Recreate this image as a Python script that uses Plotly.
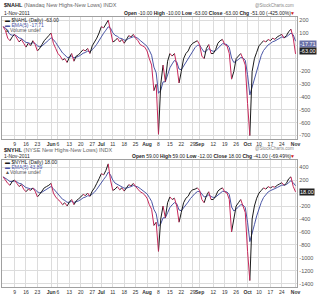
import plotly.graph_objects as go
import pandas as pd

# ---------------- data ----------------
holidays = ["2011-05-30", "2011-07-04", "2011-09-05"]
dates = [d.strftime("%Y-%m-%d") for d in pd.bdate_range("2011-05-02", "2011-11-01") if d.strftime("%Y-%m-%d") not in holidays]

nahl = [150, 120, 60, 40, 70,
        90, 60, 30, 50, 20,
        -10, 20, 0, 40, 10,
        -40, -20, 10, 40, 60,
        80,
        100, 20, -20,
        -60, -80, -110, -100, -130,
        -90, -60, -120, -80, -70,
        -50, -30, -40, -20, -60,
        0, 30, 60, 100,
        150,
        140, 170, 200, 120,
        30, 40, 60, 30, 50,
        20, 50, 80, 70, 90,
        60, 40, 10, 0, -10,
        -40, -100, -150, -350, -300,
        -690, -300, -150, -280, -120,
        -60, -80, -60, -150, -290,
        -200, -100, -60, -40, 0,
        20, 30, 40,
        10, -80,
        -100, -20, 10, -60,
        -60, -30, 20, 40, 50,
        10, 0, -60, -260, -200,
        -100, -80, -60, -100, -150,
        -450, -700, -200, -100, -50,
        0, 20, 40, 30, 50,
        40, 60, 50, 70, 80,
        90, 60, 80, 110, 130,
        60,
        -63]

nyhl = [250, 200, 150, 120, 180,
        200, 150, 100, 130, 60,
        20, 60, 40, 80, 30,
        -60, -20, 30, 80, 100,
        120,
        150, 0, -60,
        -100, -130, -180, -150, -200,
        -140, -100, -180, -120, -90,
        -60, -20, -40, 0, -50,
        30, 80, 150, 220,
        300,
        280, 350, 450, 200,
        40, 60, 100, 50, 80,
        30, 80, 130, 110, 150,
        100, 60, 20, 0, -30,
        -80, -180, -250, -500, -450,
        -900, -400, -200, -380, -150,
        -60, -100, -80, -200, -450,
        -300, -150, -80, -50, 20,
        50, 60, 80,
        40, -100,
        -150, -40, 20, -100,
        -100, -50, 30, 60, 80,
        20, 0, -100, -600, -400,
        -200, -150, -100, -200, -300,
        -900, -1350, -400, -200, -80,
        0, 40, 80, 60, 100,
        80, 100, 90, 120, 140,
        160, 120, 150, 220, 250,
        100,
        18]

tick_dates = ["2011-05-09", "2011-05-16", "2011-05-23", "2011-06-01", "2011-06-06", "2011-06-13",
              "2011-06-20", "2011-06-27", "2011-07-01", "2011-07-11", "2011-07-18", "2011-07-25",
              "2011-08-01", "2011-08-08", "2011-08-15", "2011-08-22", "2011-08-29", "2011-09-01",
              "2011-09-12", "2011-09-19", "2011-09-26", "2011-10-03", "2011-10-10", "2011-10-17",
              "2011-10-24", "2011-11-01"]
tick_text = ["9", "16", "23", "<b>Jun</b>", "6", "13", "20", "27", "<b>Jul</b>", "11", "18", "25",
             "<b>Aug</b>", "8", "15", "22", "29", "<b>Sep</b>", "12", "19", "26", "<b>Oct</b>",
             "10", "17", "24", "<b>Nov</b>"]

top_yticks = [200, 100, 0, -100, -200, -300, -400, -500, -600, -700]
top_ylabels = ["200", "100", "", "", "-200", "-300", "-400", "-500", "-600", "-700"]
bot_yticks = [400, 200, 0, -200, -400, -600, -800, -1000, -1200, -1400]
bot_ylabels = ["400", "200", "", "-200", "-400", "-600", "-800", "-1000", "-1200", "-1400"]


def ema(vals, n=5):
    a = 2 / (n + 1)
    out = [vals[0]]
    for v in vals[1:]:
        out.append(a * v + (1 - a) * out[-1])
    return out


def split_dir(xs, ys):
    ux, uy, dx, dy = [], [], [], []
    for i in range(1, len(ys)):
        if ys[i] >= ys[i - 1]:
            ux += [xs[i - 1], xs[i], None]; uy += [ys[i - 1], ys[i], None]
        else:
            dx += [xs[i - 1], xs[i], None]; dy += [ys[i - 1], ys[i], None]
    return ux, uy, dx, dy


PINK = "#c8285a"
BLACK = "#1a1a1a"
BLUE = "#4a56a6"
FONT = "Liberation Sans"

fig = go.Figure()
for vals, xa, ya in [(nahl, "x", "y"), (nyhl, "x2", "y2")]:
    e = ema(vals)
    fig.add_trace(go.Scatter(x=dates, y=e, mode="lines", line=dict(color=BLUE, width=1),
                             xaxis=xa, yaxis=ya, hoverinfo="skip"))
    ux, uy, dx, dy = split_dir(dates, vals)
    fig.add_trace(go.Scatter(x=ux, y=uy, mode="lines", line=dict(color=BLACK, width=1),
                             xaxis=xa, yaxis=ya, hoverinfo="skip"))
    fig.add_trace(go.Scatter(x=dx, y=dy, mode="lines", line=dict(color=PINK, width=1),
                             xaxis=xa, yaxis=ya, hoverinfo="skip"))

W, H = 327, 300
def px(x): return x / W
def py(y): return 1 - y / H

xcommon = dict(type="date", range=["2011-05-01 12:00", "2011-11-01 18:00"],
               rangebreaks=[dict(bounds=["sat", "mon"]), dict(values=holidays)],
               tickvals=tick_dates, ticktext=tick_text, tickangle=0, showgrid=True, gridcolor="#dcdcdc",
               gridwidth=1, showline=True, linecolor="#a0a0a0", mirror=True, ticks="", ticklen=0,
               tickfont=dict(size=5, color="#333", family=FONT), zeroline=False)
ycommon = dict(side="right", showgrid=True, gridcolor="#dcdcdc", showline=True, linecolor="#a0a0a0",
               mirror=True, ticks="", tickfont=dict(size=5.5, color="#555", family=FONT), zeroline=False)

fig.update_layout(
    width=W, height=H, margin=dict(l=0, r=0, t=0, b=0), showlegend=False,
    paper_bgcolor="white", plot_bgcolor="white",
    xaxis=dict(xcommon, domain=[px(2), px(300)], anchor="y"),
    yaxis=dict(ycommon, domain=[py(139), py(17)], range=[-727, 225], tickvals=top_yticks,
               ticktext=top_ylabels, anchor="x"),
    xaxis2=dict(xcommon, domain=[px(2), px(300)], anchor="y2"),
    yaxis2=dict(ycommon, domain=[py(287), py(160)], range=[-1450, 510], tickvals=bot_yticks,
                ticktext=bot_ylabels, anchor="x2"),
)

ann = []
def txt(x, y, s, size=5.5, color="#222", xanchor="left", bg=None):
    d = dict(x=px(x), y=py(y), xref="paper", yref="paper", text=s, showarrow=False,
             xanchor=xanchor, yanchor="middle", font=dict(size=size, color=color, family=FONT))
    if bg:
        d.update(bgcolor=bg, borderpad=0)
    ann.append(d)

panels = [
    ((5, 13, 20, 25, 30), "$NAHL", "(Nasdaq New Highs-New Lows) INDX",
     "<b>Open</b> -10.00 <b>High</b> -10.00 <b>Low</b> -63.00 <b>Close</b> -63.00 <b>Chg</b> -51.00 (-425.00%)",
     "$NAHL (Daily) -63.00", "EMA(5) -17.71"),
    ((150, 156, 162, 167, 172), "$NYHL", "(NYSE New Highs-New Lows) INDX",
     "<b>Open</b> 59.00 <b>High</b> 59.00 <b>Low</b> -12.00 <b>Close</b> 18.00 <b>Chg</b> -41.00 (-69.49%)",
     "$NYHL (Daily) 18.00", "EMA(5) 43.89"),
]
for (y1, y2, y3, y4, y5), sym, name, ohlc, leg1, leg2 in panels:
    txt(2, y1, f"<b>{sym}</b> <span style='color:#666'>{name}</span>", size=5.5)
    txt(2, y2, "1-Nov-2011", size=5)
    txt(299, y1 - 1 if y1 > 10 else y1, "@StockCharts.com", size=4.5, color="#888", xanchor="right")
    txt(296, y2, ohlc, size=5, xanchor="right")
    txt(300, y2, "▼", size=5, color="#d02020", xanchor="right")
    txt(3, y3, f"<span style='color:{BLACK}'>▬</span> {leg1}", size=5)
    txt(3, y4, f"<span style='color:{BLUE}'>▬</span> <span style='color:{BLUE}'>{leg2}</span>", size=5)
    txt(3, y5, "<b>▲</b>Volume undef", size=5, color="#555")

txt(302, 44, "-17.71", size=5.5, color="white", bg="#6a72a8")
txt(302, 51, "-63.00", size=5.5, color="white", bg="#222")
txt(302, 192, "18.00", size=5.5, color="white", bg="#222")

fig.update_layout(annotations=ann)
fig.write_html("out.html")
